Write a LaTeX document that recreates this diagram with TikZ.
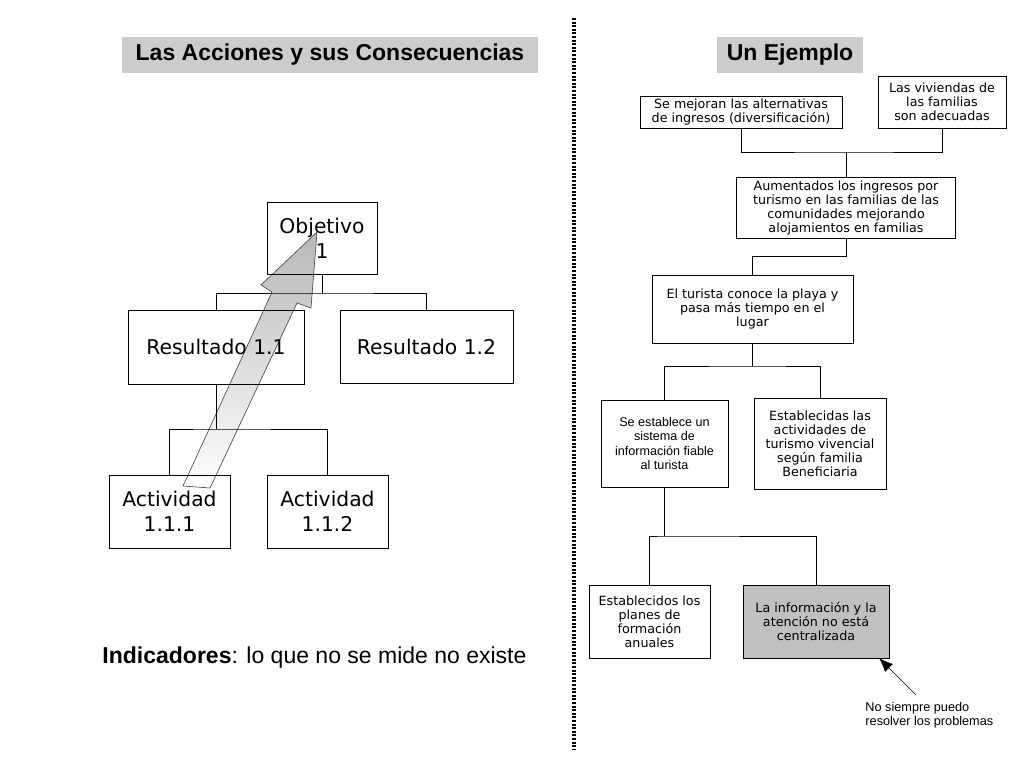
\documentclass[tikz,border=0pt]{standalone}
\usepackage{fontspec}
\setmainfont{Liberation Sans}
\newfontfamily\verdana{DejaVu Sans}
\usepackage{tikz}
\usetikzlibrary{arrows.meta, positioning}

\definecolor{titlegray}{RGB}{204,204,204}
\definecolor{boxgray}{RGB}{192,192,192}

\begin{document}
\begin{tikzpicture}[x=1pt, y=-1pt, >=latex, line width=0.9pt,
    title/.style={fill=titlegray, inner sep=0pt, font=\fontsize{23}{26}\selectfont\bfseries},
    bigbox/.style={draw, align=center, inner sep=2pt, font=\verdana\fontsize{20.3}{25}\selectfont},
    smallbox/.style={draw, align=center, inner sep=2pt, font=\verdana\fontsize{12.7}{14}\selectfont},
    arialbox/.style={smallbox, font=\fontsize{12.6}{14.5}\selectfont}]

    \useasboundingbox (0,0) rectangle (1024,768);

    \node[title, minimum width=416, minimum height=36] (tleft) at (330,55) {Las Acciones y sus Consecuencias};
    \node[title, minimum width=146, minimum height=36] (tright) at (790,55) {Un Ejemplo};

    \coordinate (sepA) at (574,18);
    \coordinate (sepB) at (574,750);
    \draw[line width=3.5pt, dash pattern=on 2pt off 1.6pt] (sepA) -- (sepB);

    % left side
    \shade[top color=black!28, bottom color=white, draw=black!75, line width=0.6pt]
        (183,486) -- (272,292) -- (261,285) -- (317,232) -- (311,308) -- (297,303) -- (210,488) -- cycle;

    \node[bigbox, minimum width=110, minimum height=72] (obj) at (322,238) {Objetivo\\1};
    \node[bigbox, minimum width=176, minimum height=74] (r11) at (216,347) {Resultado 1.1};
    \node[bigbox, minimum width=173, minimum height=73] (r12) at (426.5,347) {Resultado 1.2};
    \node[bigbox, minimum width=121, minimum height=73] (a111) at (169.5,511.5) {Actividad\\1.1.1};
    \node[bigbox, minimum width=121, minimum height=73] (a112) at (327.5,511.5) {Actividad\\1.1.2};

    \coordinate (b1) at (322,293);
    \coordinate (b2) at (216,429);
    \draw (obj) -- (b1);
    \draw (r11.north) |- (b1) -| (r12.north);
    \draw (r11) -- (b2);
    \draw (a111.north) |- (b2) -| (a112.north);

    \node[anchor=base west, inner sep=0pt, font=\fontsize{23}{26}\selectfont] (ind) at (102,663)
        {\textbf{Indicadores}: lo que no se mide no existe};

    % right side
    \node[smallbox, minimum width=202, minimum height=32] (alt) at (741,112)
        {Se mejoran las alternativas\\de ingresos (diversificación)};
    \node[smallbox, minimum width=128, minimum height=52] (viv) at (942,102)
        {Las viviendas de\\las familias\\son adecuadas};
    \node[smallbox, minimum width=219, minimum height=61] (ingr) at (846,207.5)
        {Aumentados los ingresos por\\turismo en las familias de las\\comunidades mejorando\\alojamientos en familias};
    \node[smallbox, minimum width=201, minimum height=68] (playa) at (752.5,309)
        {El turista conoce la playa y\\pasa más tiempo en el\\lugar};
    \node[arialbox, minimum width=127, minimum height=87] (sist) at (664.5,443.5)
        {Se establece un\\sistema de\\información fiable\\al turista};
    \node[smallbox, minimum width=132, minimum height=91] (activ) at (820,443.5)
        {Establecidas las\\actividades de\\turismo vivencial\\según familia\\Beneficiaria};
    \node[smallbox, minimum width=121, minimum height=73] (planes) at (649.5,621.5)
        {Establecidos los\\planes de\\formación\\anuales};
    \node[smallbox, fill=boxgray, minimum width=146, minimum height=73] (centr) at (816,621.5)
        {La información y la\\atención no está\\centralizada};

    \coordinate (b3) at (846,152);
    \coordinate (b4) at (752.5,366);
    \coordinate (b5) at (664.5,536);
    \draw (alt.south) |- (b3) -| (viv.south);
    \draw (b3) -- (ingr.north);
    \draw (ingr.south) -- ++(0,18) -| (playa.north);
    \draw (playa) -- (b4);
    \draw (sist.north) |- (b4) -| (activ.north);
    \draw (sist) -- (b5);
    \draw (planes.north) |- (b5) -| (centr.north);

    \node[anchor=north west, align=left, inner sep=0pt, font=\fontsize{12.7}{14}\selectfont] (nota) at (865,702)
        {No siempre puedo\\resolver los problemas};
    \coordinate (tail) at (916,695);
    \coordinate (tip) at (879,658);
    \draw[-{Latex[length=14pt, width=11pt]}, line width=0.5pt] (tail) -- (tip);

\end{tikzpicture}
\end{document}
